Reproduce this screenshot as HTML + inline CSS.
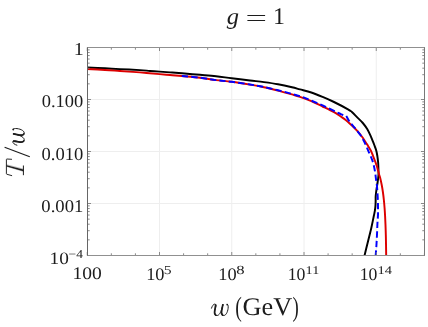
<!DOCTYPE html>
<html><head><meta charset="utf-8"><title>g = 1</title>
<style>
html,body{margin:0;padding:0;background:#fff;}
body{width:428px;height:327px;overflow:hidden;font-family:"Liberation Serif",serif;}
svg{display:block;will-change:transform;}
text{font-family:"Liberation Serif",serif;fill:#1c1c1c;text-rendering:geometricPrecision;}
</style></head><body>
<svg width="428" height="327" viewBox="0 0 428 327">
<rect width="428" height="327" fill="#fff"/>

<g stroke="#eeeeee" stroke-width="1" fill="none"><line x1="159.50" y1="47.5" x2="159.50" y2="255.5"/><line x1="231.75" y1="47.5" x2="231.75" y2="255.5"/><line x1="304.00" y1="47.5" x2="304.00" y2="255.5"/><line x1="376.25" y1="47.5" x2="376.25" y2="255.5"/><line x1="87.5" y1="99.50" x2="424.5" y2="99.50"/><line x1="87.5" y1="151.50" x2="424.5" y2="151.50"/><line x1="87.5" y1="203.50" x2="424.5" y2="203.50"/></g>

<clipPath id="cp"><rect x="86.5" y="47.5" width="338.0" height="208.0"/></clipPath>
<g fill="none" stroke-linejoin="round" stroke-linecap="butt" stroke-width="1.95" clip-path="url(#cp)">
<path d="M87.00,67.45C90.00,67.59 99.50,68.03 105.00,68.30C110.50,68.57 114.17,68.80 120.00,69.10C125.83,69.40 135.00,69.79 140.00,70.10C145.00,70.41 146.73,70.70 150.00,70.95C153.27,71.20 156.27,71.37 159.60,71.60C162.93,71.83 166.27,72.07 170.00,72.35C173.73,72.63 177.00,72.89 182.00,73.30C187.00,73.71 194.33,74.32 200.00,74.80C205.67,75.28 210.72,75.62 216.00,76.20C221.28,76.78 226.03,77.58 231.70,78.30C237.37,79.02 244.62,79.87 250.00,80.50C255.38,81.13 259.33,81.48 264.00,82.10C268.67,82.72 273.33,83.35 278.00,84.20C282.67,85.05 288.33,86.33 292.00,87.20C295.67,88.07 296.78,88.52 300.00,89.40C303.22,90.28 307.53,91.25 311.30,92.50C315.07,93.75 318.82,95.32 322.60,96.90C326.38,98.48 329.77,99.93 334.00,102.00C338.23,104.07 345.02,107.63 348.00,109.30C350.98,110.97 350.40,110.70 351.90,112.00C353.40,113.30 355.22,115.31 357.00,117.10C358.78,118.89 360.90,120.77 362.60,122.75C364.30,124.73 365.87,126.83 367.20,129.00C368.53,131.18 369.57,133.53 370.60,135.80C371.63,138.07 372.78,141.07 373.40,142.60C374.02,144.13 373.82,143.65 374.30,145.00C374.78,146.35 375.78,148.82 376.30,150.70C376.82,152.58 377.10,154.42 377.40,156.30C377.70,158.18 377.93,160.12 378.10,162.00C378.27,163.88 378.33,165.53 378.40,167.60C378.47,169.67 378.53,172.67 378.50,174.40C378.47,176.13 378.35,176.65 378.20,178.00C378.05,179.35 377.88,180.62 377.60,182.50C377.32,184.38 376.82,187.05 376.50,189.30C376.18,191.55 375.84,194.07 375.70,196.00C375.56,197.93 375.69,199.27 375.65,200.90C375.61,202.53 375.57,204.17 375.45,205.80C375.32,207.43 375.16,209.07 374.90,210.70C374.64,212.32 374.27,213.77 373.90,215.55C373.53,217.33 373.13,219.33 372.70,221.40C372.27,223.47 371.68,226.28 371.30,228.00C370.92,229.72 371.02,229.20 370.40,231.70C369.78,234.20 368.62,238.87 367.60,243.00C366.58,247.13 364.85,254.25 364.30,256.50" stroke="#000"/>
<path d="M87.00,69.05C90.00,69.20 99.50,69.62 105.00,69.95C110.50,70.28 114.17,70.59 120.00,71.00C125.83,71.41 133.40,71.88 140.00,72.40C146.60,72.92 154.60,73.67 159.60,74.10C164.60,74.53 166.27,74.67 170.00,75.00C173.73,75.33 177.00,75.60 182.00,76.05C187.00,76.50 194.33,77.03 200.00,77.70C205.67,78.38 210.72,79.42 216.00,80.10C221.28,80.78 226.03,81.05 231.70,81.80C237.37,82.55 244.62,83.70 250.00,84.60C255.38,85.50 259.33,86.20 264.00,87.20C268.67,88.20 273.33,89.40 278.00,90.60C282.67,91.80 288.33,93.37 292.00,94.40C295.67,95.43 296.78,95.68 300.00,96.80C303.22,97.92 307.53,99.48 311.30,101.10C315.07,102.72 318.82,104.65 322.60,106.50C326.38,108.35 331.10,110.62 334.00,112.20C336.90,113.78 338.05,114.72 340.00,116.00C341.95,117.28 343.82,118.40 345.70,119.90C347.58,121.40 349.42,123.20 351.30,125.00C353.18,126.80 355.12,128.62 357.00,130.70C358.88,132.78 361.00,135.33 362.60,137.50C364.20,139.67 365.78,142.45 366.60,143.70C367.42,144.95 366.78,143.83 367.50,145.00C368.22,146.17 369.95,148.82 370.90,150.70C371.85,152.58 372.45,154.42 373.20,156.30C373.95,158.18 374.72,160.12 375.40,162.00C376.08,163.88 376.68,165.53 377.30,167.60C377.92,169.67 378.62,172.67 379.10,174.40C379.58,176.13 379.76,176.23 380.20,178.00C380.64,179.77 381.28,182.67 381.73,185.00C382.18,187.33 382.53,189.50 382.89,192.00C383.25,194.50 383.59,197.33 383.87,200.00C384.15,202.67 384.38,205.33 384.58,208.00C384.78,210.67 384.94,213.17 385.09,216.00C385.24,218.83 385.38,221.83 385.50,225.00C385.62,228.17 385.73,231.67 385.82,235.00C385.91,238.33 385.97,241.42 386.03,245.00C386.09,248.58 386.15,254.58 386.18,256.50" stroke="#dc0000"/>
<path d="M181.80,76.05C184.83,76.33 194.30,77.03 200.00,77.70C205.70,78.38 210.72,79.42 216.00,80.10C221.28,80.78 226.03,81.07 231.70,81.80C237.37,82.53 244.62,83.63 250.00,84.50C255.38,85.37 259.33,86.05 264.00,87.00C268.67,87.95 273.33,89.05 278.00,90.20C282.67,91.35 287.95,92.77 292.00,93.90C296.05,95.03 299.08,95.88 302.30,97.00C305.52,98.12 307.92,99.20 311.30,100.60C314.68,102.00 318.82,103.68 322.60,105.40C326.38,107.12 331.17,109.55 334.00,110.90C336.83,112.25 338.10,112.82 339.60,113.50C341.10,114.18 341.88,114.60 343.00,115.00C344.12,115.40 345.75,115.75 346.30,115.90" stroke="#0000ff" stroke-dasharray="6.33 3.143"/>
<path d="M346.30,115.90C346.80,116.80 348.12,119.57 349.30,121.30C350.48,123.03 352.02,124.62 353.40,126.30C354.78,127.98 356.22,129.65 357.60,131.40C358.98,133.15 360.58,135.05 361.70,136.80C362.82,138.55 363.43,140.10 364.30,141.90C365.17,143.70 366.00,145.57 366.90,147.60C367.80,149.63 368.83,152.08 369.70,154.10C370.57,156.12 371.42,157.82 372.10,159.70C372.78,161.58 373.30,163.32 373.80,165.40C374.30,167.48 374.73,169.93 375.10,172.20C375.47,174.47 375.71,176.90 376.00,179.00C376.29,181.10 376.62,182.70 376.85,184.80C377.08,186.90 377.22,188.97 377.40,191.60C377.57,194.23 377.80,197.97 377.90,200.60C378.00,203.23 377.98,205.00 378.00,207.40C378.02,209.80 378.09,212.35 378.00,215.00C377.91,217.65 377.62,220.05 377.45,223.30C377.28,226.55 377.18,230.75 377.00,234.50C376.82,238.25 376.63,242.13 376.40,245.80C376.17,249.47 375.73,254.72 375.60,256.50" stroke="#0000ff" stroke-dasharray="6.35 3.145"/>
</g>

<path d="M87.25,255.5v-3.5M87.25,47.5v3.5M111.33,255.5v-2.2M111.33,47.5v2.2M135.42,255.5v-2.2M135.42,47.5v2.2M159.50,255.5v-3.5M159.50,47.5v3.5M183.58,255.5v-2.2M183.58,47.5v2.2M207.66,255.5v-2.2M207.66,47.5v2.2M231.75,255.5v-3.5M231.75,47.5v3.5M255.83,255.5v-2.2M255.83,47.5v2.2M279.91,255.5v-2.2M279.91,47.5v2.2M304.00,255.5v-3.5M304.00,47.5v3.5M328.08,255.5v-2.2M328.08,47.5v2.2M352.16,255.5v-2.2M352.16,47.5v2.2M376.25,255.5v-3.5M376.25,47.5v3.5M400.33,255.5v-2.2M400.33,47.5v2.2M424.41,255.5v-2.2M424.41,47.5v2.2M87.5,99.50h3.5M424.5,99.50h-3.5M87.5,83.85h2.2M424.5,83.85h-2.2M87.5,74.69h2.2M424.5,74.69h-2.2M87.5,68.19h2.2M424.5,68.19h-2.2M87.5,63.15h2.2M424.5,63.15h-2.2M87.5,59.04h2.2M424.5,59.04h-2.2M87.5,55.55h2.2M424.5,55.55h-2.2M87.5,52.54h2.2M424.5,52.54h-2.2M87.5,49.88h2.2M424.5,49.88h-2.2M87.5,151.50h3.5M424.5,151.50h-3.5M87.5,135.85h2.2M424.5,135.85h-2.2M87.5,126.69h2.2M424.5,126.69h-2.2M87.5,120.19h2.2M424.5,120.19h-2.2M87.5,115.15h2.2M424.5,115.15h-2.2M87.5,111.04h2.2M424.5,111.04h-2.2M87.5,107.55h2.2M424.5,107.55h-2.2M87.5,104.54h2.2M424.5,104.54h-2.2M87.5,101.88h2.2M424.5,101.88h-2.2M87.5,203.50h3.5M424.5,203.50h-3.5M87.5,187.85h2.2M424.5,187.85h-2.2M87.5,178.69h2.2M424.5,178.69h-2.2M87.5,172.19h2.2M424.5,172.19h-2.2M87.5,167.15h2.2M424.5,167.15h-2.2M87.5,163.04h2.2M424.5,163.04h-2.2M87.5,159.55h2.2M424.5,159.55h-2.2M87.5,156.54h2.2M424.5,156.54h-2.2M87.5,153.88h2.2M424.5,153.88h-2.2M87.5,255.50h3.5M424.5,255.50h-3.5M87.5,239.85h2.2M424.5,239.85h-2.2M87.5,230.69h2.2M424.5,230.69h-2.2M87.5,224.19h2.2M424.5,224.19h-2.2M87.5,219.15h2.2M424.5,219.15h-2.2M87.5,215.04h2.2M424.5,215.04h-2.2M87.5,211.55h2.2M424.5,211.55h-2.2M87.5,208.54h2.2M424.5,208.54h-2.2M87.5,205.88h2.2M424.5,205.88h-2.2M87.5,47.50h3.5M424.5,47.50h-3.5" stroke="#7d7d7d" stroke-width="0.9" fill="none"/>

<path d="M87.0,47.5H425.0M87.0,255.5H425.0" stroke="#909090" stroke-width="1" fill="none"/>
<path d="M424.5,47.5V255.5" stroke="#787878" stroke-width="1" fill="none"/>
<path d="M87.5,47.5V255.5" stroke="#666666" stroke-width="1" fill="none"/>

<text transform="translate(73.80,55.10) scale(0.2000,0.1833)" font-size="100">1</text>
<text transform="translate(41.76,107.34) scale(0.1848,0.1809)" font-size="100">0.100</text>
<text transform="translate(41.46,159.63) scale(0.1857,0.1838)" font-size="100">0.010</text>
<text transform="translate(41.35,212.04) scale(0.1865,0.1809)" font-size="100">0.001</text>
<text transform="translate(49.56,263.95) scale(0.1931,0.1750)" font-size="100">10</text>
<text transform="translate(68.62,257.80) scale(0.1350,0.1200)" font-size="100">−4</text>
<text transform="translate(72.54,279.34) scale(0.1956,0.1779)" font-size="100">100</text>
<text transform="translate(146.20,279.54) scale(0.1833,0.1779)" font-size="100">10</text>
<text transform="translate(163.75,274.28) scale(0.1575,0.1227)" font-size="100">5</text>
<text transform="translate(218.24,279.54) scale(0.1839,0.1779)" font-size="100">10</text>
<text transform="translate(236.33,274.15) scale(0.1667,0.1254)" font-size="100">8</text>
<text transform="translate(287.65,279.54) scale(0.1776,0.1779)" font-size="100">10</text>
<text transform="translate(305.62,274.10) scale(0.1420,0.1167)" font-size="100">11</text>
<text transform="translate(359.71,279.54) scale(0.1770,0.1779)" font-size="100">10</text>
<text transform="translate(377.40,274.10) scale(0.1449,0.1167)" font-size="100">14</text>
<text transform="translate(226.70,23.57) scale(0.2447,0.2301)" font-size="100" font-style="italic">g</text>
<path d="M247.4,15.4H265.1M247.4,20.5H265.1" stroke="#1c1c1c" stroke-width="1.05" fill="none"/>
<text transform="translate(273.04,23.90) scale(0.2400,0.2379)" font-size="100">1</text>
<g transform="translate(212.20,315.20) scale(1.0,1.0)" fill="none" stroke="#1c1c1c" stroke-linecap="round" stroke-linejoin="round"><path d="M-0.7,-7.0C0.0,-9.4 1.3,-11.1 2.6,-11.1C3.9,-11.1 4.0,-9.7 3.5,-7.9L2.6,-4.4C2.0,-1.7 2.6,0.3 4.8,0.3C7.0,0.3 8.6,-3.0 9.6,-6.2L10.8,-10.9L9.5,-5.0C8.9,-1.9 9.6,0.3 11.6,0.3C14.1,0.3 16.0,-4.5 16.0,-8.4C16.0,-9.9 15.7,-10.6 15.1,-10.9" stroke-width="1.0"/><path d="M3.45,-10.2L2.45,-4.0C2.2,-2.2 2.6,-0.6 3.6,0.0M10.6,-10.3L9.4,-4.3C9.1,-2.4 9.5,-0.7 10.5,0.0" stroke-width="1.7"/><circle cx="15.0" cy="-10.6" r="0.9" fill="#1c1c1c" stroke="none"/></g>
<text transform="translate(235.32,316.17) scale(0.1962,0.2778)" font-size="100">(</text>
<text transform="translate(242.50,314.79) scale(0.2628,0.2552)" font-size="100">GeV</text>
<text transform="translate(292.53,316.17) scale(0.1885,0.2778)" font-size="100">)</text>
<g stroke="#1c1c1c" fill="none" stroke-linecap="round" stroke-linejoin="round"><path d="M11.6,159.3L6.9,159.0C6.5,159.0 6.4,159.2 6.4,159.6L6.4,173.6C6.4,174.0 6.6,174.2 7.0,174.3L11.7,175.6" stroke-width="0.95"/><path d="M23.4,165.9L23.4,174.8" stroke-width="1.0"/><path d="M6.7,165.2L6.7,166.4L23.3,171.3L23.3,169.5Z" fill="#1c1c1c" stroke-width="0.3"/></g>
<path d="M4.6,147.3L29.8,156.8" stroke="#1c1c1c" stroke-width="1.2" fill="none"/>
<g transform="translate(23.90,144.50) rotate(-90) scale(1.0,1.0)" fill="none" stroke="#1c1c1c" stroke-linecap="round" stroke-linejoin="round"><path d="M-0.7,-7.0C0.0,-9.4 1.3,-11.1 2.6,-11.1C3.9,-11.1 4.0,-9.7 3.5,-7.9L2.6,-4.4C2.0,-1.7 2.6,0.3 4.8,0.3C7.0,0.3 8.6,-3.0 9.6,-6.2L10.8,-10.9L9.5,-5.0C8.9,-1.9 9.6,0.3 11.6,0.3C14.1,0.3 16.0,-4.5 16.0,-8.4C16.0,-9.9 15.7,-10.6 15.1,-10.9" stroke-width="1.0"/><path d="M3.45,-10.2L2.45,-4.0C2.2,-2.2 2.6,-0.6 3.6,0.0M10.6,-10.3L9.4,-4.3C9.1,-2.4 9.5,-0.7 10.5,0.0" stroke-width="1.7"/><circle cx="15.0" cy="-10.6" r="0.9" fill="#1c1c1c" stroke="none"/></g>
<text x="-900" y="-900" font-size="10" font-style="italic">T/w</text><text x="-900" y="-880" font-size="10">g = 1</text><text x="-900" y="-860" font-size="10">w (GeV)</text>
</svg></body></html>
